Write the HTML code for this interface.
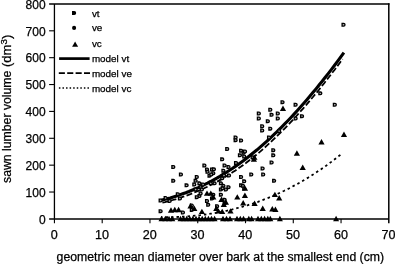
<!DOCTYPE html>
<html><head><meta charset="utf-8"><title>chart</title>
<style>html,body{margin:0;padding:0;background:#fff}svg{display:block}svg text{stroke:#000;stroke-width:0.25px}</style></head>
<body>
<svg width="395" height="264" viewBox="0 0 395 264">
<rect width="395" height="264" fill="#fff"/>
<g font-family="'Liberation Sans', Arial, Helvetica, sans-serif" fill="#000">
<path d="M54.43,218.9 V4.05" fill="none" stroke="#000" stroke-width="1.3"/>
<path d="M49.13,4.05 H389.5" fill="none" stroke="#000" stroke-width="1.45"/>
<path d="M388.8,3.35 V223.20000000000002" fill="none" stroke="#000" stroke-width="1.5"/>
<path d="M49.13,219.0 H388.8" fill="none" stroke="#000" stroke-width="1.6"/>
<path d="M49.13,192.03 H54.43" stroke="#000" stroke-width="1.1"/>
<path d="M49.13,165.16 H54.43" stroke="#000" stroke-width="1.1"/>
<path d="M49.13,138.29 H54.43" stroke="#000" stroke-width="1.1"/>
<path d="M49.13,111.42 H54.43" stroke="#000" stroke-width="1.1"/>
<path d="M49.13,84.55 H54.43" stroke="#000" stroke-width="1.1"/>
<path d="M49.13,57.68 H54.43" stroke="#000" stroke-width="1.1"/>
<path d="M49.13,30.81 H54.43" stroke="#000" stroke-width="1.1"/>
<path d="M54.43,218.9 V223.20000000000002" stroke="#000" stroke-width="1.1"/>
<path d="M102.20,218.9 V223.20000000000002" stroke="#000" stroke-width="1.1"/>
<path d="M149.97,218.9 V223.20000000000002" stroke="#000" stroke-width="1.1"/>
<path d="M197.74,218.9 V223.20000000000002" stroke="#000" stroke-width="1.1"/>
<path d="M245.51,218.9 V223.20000000000002" stroke="#000" stroke-width="1.1"/>
<path d="M293.28,218.9 V223.20000000000002" stroke="#000" stroke-width="1.1"/>
<path d="M341.05,218.9 V223.20000000000002" stroke="#000" stroke-width="1.1"/>
<text x="45.6" y="223.6" font-size="12" text-anchor="end">0</text>
<text x="45.6" y="196.7" font-size="12" text-anchor="end">100</text>
<text x="45.6" y="169.9" font-size="12" text-anchor="end">200</text>
<text x="45.6" y="143.0" font-size="12" text-anchor="end">300</text>
<text x="45.6" y="116.1" font-size="12" text-anchor="end">400</text>
<text x="45.6" y="89.3" font-size="12" text-anchor="end">500</text>
<text x="45.6" y="62.4" font-size="12" text-anchor="end">600</text>
<text x="45.6" y="35.5" font-size="12" text-anchor="end">700</text>
<text x="45.6" y="8.6" font-size="12" text-anchor="end">800</text>
<text x="50.7" y="239.4" font-size="12" textLength="7.0" lengthAdjust="spacingAndGlyphs">0</text>
<text x="95.0" y="239.4" font-size="12" textLength="14.0" lengthAdjust="spacingAndGlyphs">10</text>
<text x="142.8" y="239.4" font-size="12" textLength="14.0" lengthAdjust="spacingAndGlyphs">20</text>
<text x="190.5" y="239.4" font-size="12" textLength="14.0" lengthAdjust="spacingAndGlyphs">30</text>
<text x="238.3" y="239.4" font-size="12" textLength="14.0" lengthAdjust="spacingAndGlyphs">40</text>
<text x="286.1" y="239.4" font-size="12" textLength="14.0" lengthAdjust="spacingAndGlyphs">50</text>
<text x="333.9" y="239.4" font-size="12" textLength="14.0" lengthAdjust="spacingAndGlyphs">60</text>
<text x="381.6" y="239.4" font-size="12" textLength="14.0" lengthAdjust="spacingAndGlyphs">70</text>
<text x="56.6" y="260.5" font-size="12" textLength="327.5" lengthAdjust="spacingAndGlyphs">geometric mean diameter over bark at the smallest end (cm)</text>
<text transform="translate(11.4,183) rotate(-90)" font-size="12" textLength="112.4" lengthAdjust="spacingAndGlyphs">sawn lumber volume</text>
<text transform="translate(11.4,67) rotate(-90)" font-size="12" textLength="32.3" lengthAdjust="spacingAndGlyphs">(dm<tspan font-size="9" dy="-4">3</tspan><tspan dy="4">)</tspan></text>
<path d="M161.0,217.2 L163.6,217.2 L166.2,217.2 L168.9,217.2 L171.5,217.1 L174.1,217.1 L176.7,217.0 L179.3,216.9 L182.0,216.7 L184.6,216.6 L187.2,216.4 L189.8,216.2 L192.4,216.0 L195.1,215.7 L197.7,215.5 L200.3,215.2 L202.9,214.8 L205.5,214.5 L208.2,214.1 L210.8,213.7 L213.4,213.3 L216.0,212.8 L218.6,212.4 L221.3,211.9 L223.9,211.3 L226.5,210.8 L229.1,210.2 L231.7,209.6 L234.4,208.9 L237.0,208.2 L239.6,207.5 L242.2,206.8 L244.8,206.0 L247.5,205.3 L250.1,204.4 L252.7,203.6 L255.3,202.7 L258.0,201.8 L260.6,200.8 L263.2,199.8 L265.8,198.8 L268.4,197.8 L271.1,196.7 L273.7,195.6 L276.3,194.4 L278.9,193.2 L281.5,192.0 L284.2,190.8 L286.8,189.5 L289.4,188.2 L292.0,186.8 L294.6,185.4 L297.3,184.0 L299.9,182.5 L302.5,181.0 L305.1,179.4 L307.7,177.9 L310.4,176.2 L313.0,174.6 L315.6,172.9 L318.2,171.1 L320.8,169.4 L323.5,167.5 L326.1,165.7 L328.7,163.8 L331.3,161.9 L333.9,159.9 L336.6,157.9 L339.2,155.8 L341.8,153.7" fill="none" stroke="#000" stroke-width="1.8" stroke-dasharray="2.5 3.0" stroke-dashoffset="1"/>
<path d="M162.4,202.7 L165.0,202.1 L167.6,201.4 L170.2,200.7 L172.8,200.0 L175.4,199.3 L178.1,198.5 L180.7,197.6 L183.3,196.7 L185.9,195.8 L188.5,194.9 L191.1,193.9 L193.7,192.8 L196.3,191.7 L198.9,190.6 L201.5,189.4 L204.2,188.2 L206.8,187.0 L209.4,185.7 L212.0,184.4 L214.6,183.0 L217.2,181.6 L219.8,180.1 L222.4,178.6 L225.0,177.1 L227.6,175.5 L230.3,173.8 L232.9,172.1 L235.5,170.4 L238.1,168.6 L240.7,166.8 L243.3,164.9 L245.9,163.0 L248.5,161.0 L251.1,159.0 L253.7,157.0 L256.4,154.8 L259.0,152.6 L261.6,150.4 L264.2,148.1 L266.8,145.7 L269.4,143.3 L272.0,140.9 L274.6,138.4 L277.2,135.9 L279.8,133.3 L282.5,130.7 L285.1,128.1 L287.7,125.4 L290.3,122.6 L292.9,119.8 L295.5,117.0 L298.1,114.1 L300.7,111.2 L303.3,108.3 L305.9,105.3 L308.6,102.2 L311.2,99.1 L313.8,96.0 L316.4,92.9 L319.0,89.7 L321.6,86.4 L324.2,83.2 L326.8,79.8 L329.4,76.5 L332.0,73.1 L334.7,69.7 L337.3,66.2 L339.9,62.7 L342.5,59.1" fill="none" stroke="#000" stroke-width="1.8" stroke-dasharray="6 2.4"/>
<path d="M161.0,200.3 L164.1,199.5 L167.2,198.7 L170.3,197.9 L173.4,196.9 L176.5,196.0 L179.6,194.9 L182.7,193.8 L185.8,192.7 L188.9,191.5 L192.0,190.2 L195.1,188.9 L198.2,187.6 L201.3,186.1 L204.4,184.6 L207.5,183.1 L210.6,181.5 L213.7,179.8 L216.8,178.1 L219.9,176.3 L223.0,174.4 L226.1,172.5 L229.2,170.5 L232.3,168.5 L235.4,166.4 L238.5,164.2 L241.6,162.0 L244.7,159.7 L247.8,157.3 L250.9,154.8 L254.0,152.3 L257.1,149.8 L260.2,147.1 L263.3,144.4 L266.4,141.7 L269.5,138.8 L272.6,135.9 L275.7,133.0 L278.8,129.9 L281.9,126.8 L285.0,123.7 L288.1,120.5 L291.2,117.2 L294.3,113.9 L297.4,110.5 L300.5,107.0 L303.6,103.5 L306.7,99.9 L309.8,96.3 L312.9,92.6 L316.0,88.9 L319.1,85.1 L322.2,81.3 L325.3,77.3 L328.4,73.4 L331.5,69.4 L334.6,65.3 L337.7,61.1 L340.8,56.9 L343.9,52.7" fill="none" stroke="#000" stroke-width="3.1"/>
<path d="M171.9,165.6 h1.6 a1.3,1.35 0 0 1 0,2.7 h-1.6z" fill="#aaa" stroke="#000" stroke-width="1.3"/>
<path d="M179.5,173.2 h1.6 a1.3,1.35 0 0 1 0,2.7 h-1.6z" fill="#aaa" stroke="#000" stroke-width="1.3"/>
<path d="M171.9,179.5 h1.6 a1.3,1.35 0 0 1 0,2.7 h-1.6z" fill="#aaa" stroke="#000" stroke-width="1.3"/>
<path d="M185.2,184.0 h1.6 a1.3,1.35 0 0 1 0,2.7 h-1.6z" fill="#aaa" stroke="#000" stroke-width="1.3"/>
<path d="M159.2,199.2 h1.6 a1.3,1.35 0 0 1 0,2.7 h-1.6z" fill="#aaa" stroke="#000" stroke-width="1.3"/>
<path d="M164.2,196.7 h1.6 a1.3,1.35 0 0 1 0,2.7 h-1.6z" fill="#aaa" stroke="#000" stroke-width="1.3"/>
<path d="M168.2,199.7 h1.6 a1.3,1.35 0 0 1 0,2.7 h-1.6z" fill="#aaa" stroke="#000" stroke-width="1.3"/>
<path d="M176.4,192.8 h1.6 a1.3,1.35 0 0 1 0,2.7 h-1.6z" fill="#aaa" stroke="#000" stroke-width="1.3"/>
<path d="M178.5,197.2 h1.6 a1.3,1.35 0 0 1 0,2.7 h-1.6z" fill="#aaa" stroke="#000" stroke-width="1.3"/>
<path d="M159.2,209.8 h1.6 a1.3,1.35 0 0 1 0,2.7 h-1.6z" fill="#aaa" stroke="#000" stroke-width="1.3"/>
<path d="M181.5,211.1 h1.6 a1.3,1.35 0 0 1 0,2.7 h-1.6z" fill="#aaa" stroke="#000" stroke-width="1.3"/>
<path d="M190.4,204.2 h1.6 a1.3,1.35 0 0 1 0,2.7 h-1.6z" fill="#aaa" stroke="#000" stroke-width="1.3"/>
<path d="M190.4,208.6 h1.6 a1.3,1.35 0 0 1 0,2.7 h-1.6z" fill="#aaa" stroke="#000" stroke-width="1.3"/>
<path d="M195.4,175.7 h1.6 a1.3,1.35 0 0 1 0,2.7 h-1.6z" fill="#aaa" stroke="#000" stroke-width="1.3"/>
<path d="M194.2,179.5 h1.6 a1.3,1.35 0 0 1 0,2.7 h-1.6z" fill="#aaa" stroke="#000" stroke-width="1.3"/>
<path d="M192.9,183.2 h1.6 a1.3,1.35 0 0 1 0,2.7 h-1.6z" fill="#aaa" stroke="#000" stroke-width="1.3"/>
<path d="M198.0,182.0 h1.6 a1.3,1.35 0 0 1 0,2.7 h-1.6z" fill="#aaa" stroke="#000" stroke-width="1.3"/>
<path d="M194.2,188.2 h1.6 a1.3,1.35 0 0 1 0,2.7 h-1.6z" fill="#aaa" stroke="#000" stroke-width="1.3"/>
<path d="M199.2,185.8 h1.6 a1.3,1.35 0 0 1 0,2.7 h-1.6z" fill="#aaa" stroke="#000" stroke-width="1.3"/>
<path d="M203.0,164.2 h1.6 a1.3,1.35 0 0 1 0,2.7 h-1.6z" fill="#aaa" stroke="#000" stroke-width="1.3"/>
<path d="M205.6,168.1 h1.6 a1.3,1.35 0 0 1 0,2.7 h-1.6z" fill="#aaa" stroke="#000" stroke-width="1.3"/>
<path d="M210.6,168.1 h1.6 a1.3,1.35 0 0 1 0,2.7 h-1.6z" fill="#aaa" stroke="#000" stroke-width="1.3"/>
<path d="M208.1,174.3 h1.6 a1.3,1.35 0 0 1 0,2.7 h-1.6z" fill="#aaa" stroke="#000" stroke-width="1.3"/>
<path d="M211.9,171.8 h1.6 a1.3,1.35 0 0 1 0,2.7 h-1.6z" fill="#aaa" stroke="#000" stroke-width="1.3"/>
<path d="M213.2,182.0 h1.6 a1.3,1.35 0 0 1 0,2.7 h-1.6z" fill="#aaa" stroke="#000" stroke-width="1.3"/>
<path d="M209.4,182.0 h1.6 a1.3,1.35 0 0 1 0,2.7 h-1.6z" fill="#aaa" stroke="#000" stroke-width="1.3"/>
<path d="M220.8,158.0 h1.6 a1.3,1.35 0 0 1 0,2.7 h-1.6z" fill="#aaa" stroke="#000" stroke-width="1.3"/>
<path d="M223.2,164.2 h1.6 a1.3,1.35 0 0 1 0,2.7 h-1.6z" fill="#aaa" stroke="#000" stroke-width="1.3"/>
<path d="M222.0,169.3 h1.6 a1.3,1.35 0 0 1 0,2.7 h-1.6z" fill="#aaa" stroke="#000" stroke-width="1.3"/>
<path d="M227.1,165.6 h1.6 a1.3,1.35 0 0 1 0,2.7 h-1.6z" fill="#aaa" stroke="#000" stroke-width="1.3"/>
<path d="M234.6,161.7 h1.6 a1.3,1.35 0 0 1 0,2.7 h-1.6z" fill="#aaa" stroke="#000" stroke-width="1.3"/>
<path d="M220.8,177.0 h1.6 a1.3,1.35 0 0 1 0,2.7 h-1.6z" fill="#aaa" stroke="#000" stroke-width="1.3"/>
<path d="M219.5,182.0 h1.6 a1.3,1.35 0 0 1 0,2.7 h-1.6z" fill="#aaa" stroke="#000" stroke-width="1.3"/>
<path d="M222.0,184.5 h1.6 a1.3,1.35 0 0 1 0,2.7 h-1.6z" fill="#aaa" stroke="#000" stroke-width="1.3"/>
<path d="M219.5,188.2 h1.6 a1.3,1.35 0 0 1 0,2.7 h-1.6z" fill="#aaa" stroke="#000" stroke-width="1.3"/>
<path d="M224.5,188.2 h1.6 a1.3,1.35 0 0 1 0,2.7 h-1.6z" fill="#aaa" stroke="#000" stroke-width="1.3"/>
<path d="M227.1,185.8 h1.6 a1.3,1.35 0 0 1 0,2.7 h-1.6z" fill="#aaa" stroke="#000" stroke-width="1.3"/>
<path d="M219.5,193.3 h1.6 a1.3,1.35 0 0 1 0,2.7 h-1.6z" fill="#aaa" stroke="#000" stroke-width="1.3"/>
<path d="M239.7,175.7 h1.6 a1.3,1.35 0 0 1 0,2.7 h-1.6z" fill="#aaa" stroke="#000" stroke-width="1.3"/>
<path d="M242.8,180.0 h1.6 a1.3,1.35 0 0 1 0,2.7 h-1.6z" fill="#aaa" stroke="#000" stroke-width="1.3"/>
<path d="M239.7,184.0 h1.6 a1.3,1.35 0 0 1 0,2.7 h-1.6z" fill="#aaa" stroke="#000" stroke-width="1.3"/>
<path d="M242.8,187.1 h1.6 a1.3,1.35 0 0 1 0,2.7 h-1.6z" fill="#aaa" stroke="#000" stroke-width="1.3"/>
<path d="M211.9,193.3 h1.6 a1.3,1.35 0 0 1 0,2.7 h-1.6z" fill="#aaa" stroke="#000" stroke-width="1.3"/>
<path d="M210.6,197.2 h1.6 a1.3,1.35 0 0 1 0,2.7 h-1.6z" fill="#aaa" stroke="#000" stroke-width="1.3"/>
<path d="M205.6,199.7 h1.6 a1.3,1.35 0 0 1 0,2.7 h-1.6z" fill="#aaa" stroke="#000" stroke-width="1.3"/>
<path d="M206.8,203.5 h1.6 a1.3,1.35 0 0 1 0,2.7 h-1.6z" fill="#aaa" stroke="#000" stroke-width="1.3"/>
<path d="M198.0,194.7 h1.6 a1.3,1.35 0 0 1 0,2.7 h-1.6z" fill="#aaa" stroke="#000" stroke-width="1.3"/>
<path d="M199.2,192.1 h1.6 a1.3,1.35 0 0 1 0,2.7 h-1.6z" fill="#aaa" stroke="#000" stroke-width="1.3"/>
<path d="M215.7,204.8 h1.6 a1.3,1.35 0 0 1 0,2.7 h-1.6z" fill="#aaa" stroke="#000" stroke-width="1.3"/>
<path d="M223.2,202.2 h1.6 a1.3,1.35 0 0 1 0,2.7 h-1.6z" fill="#aaa" stroke="#000" stroke-width="1.3"/>
<path d="M223.2,198.5 h1.6 a1.3,1.35 0 0 1 0,2.7 h-1.6z" fill="#aaa" stroke="#000" stroke-width="1.3"/>
<path d="M270.2,161.2 h1.6 a1.3,1.35 0 0 1 0,2.7 h-1.6z" fill="#aaa" stroke="#000" stroke-width="1.3"/>
<path d="M261.2,167.2 h1.6 a1.3,1.35 0 0 1 0,2.7 h-1.6z" fill="#aaa" stroke="#000" stroke-width="1.3"/>
<path d="M249.9,173.2 h1.6 a1.3,1.35 0 0 1 0,2.7 h-1.6z" fill="#aaa" stroke="#000" stroke-width="1.3"/>
<path d="M261.8,173.2 h1.6 a1.3,1.35 0 0 1 0,2.7 h-1.6z" fill="#aaa" stroke="#000" stroke-width="1.3"/>
<path d="M272.7,179.5 h1.6 a1.3,1.35 0 0 1 0,2.7 h-1.6z" fill="#aaa" stroke="#000" stroke-width="1.3"/>
<path d="M234.2,136.2 h1.6 a1.3,1.35 0 0 1 0,2.7 h-1.6z" fill="#aaa" stroke="#000" stroke-width="1.3"/>
<path d="M234.2,138.8 h1.6 a1.3,1.35 0 0 1 0,2.7 h-1.6z" fill="#aaa" stroke="#000" stroke-width="1.3"/>
<path d="M239.7,139.2 h1.6 a1.3,1.35 0 0 1 0,2.7 h-1.6z" fill="#aaa" stroke="#000" stroke-width="1.3"/>
<path d="M225.8,147.7 h1.6 a1.3,1.35 0 0 1 0,2.7 h-1.6z" fill="#aaa" stroke="#000" stroke-width="1.3"/>
<path d="M239.7,149.3 h1.6 a1.3,1.35 0 0 1 0,2.7 h-1.6z" fill="#aaa" stroke="#000" stroke-width="1.3"/>
<path d="M242.2,151.5 h1.6 a1.3,1.35 0 0 1 0,2.7 h-1.6z" fill="#aaa" stroke="#000" stroke-width="1.3"/>
<path d="M238.5,154.0 h1.6 a1.3,1.35 0 0 1 0,2.7 h-1.6z" fill="#aaa" stroke="#000" stroke-width="1.3"/>
<path d="M281.1,100.8 h1.6 a1.3,1.35 0 0 1 0,2.7 h-1.6z" fill="#aaa" stroke="#000" stroke-width="1.3"/>
<path d="M268.9,108.4 h1.6 a1.3,1.35 0 0 1 0,2.7 h-1.6z" fill="#aaa" stroke="#000" stroke-width="1.3"/>
<path d="M257.4,112.2 h1.6 a1.3,1.35 0 0 1 0,2.7 h-1.6z" fill="#aaa" stroke="#000" stroke-width="1.3"/>
<path d="M270.2,113.5 h1.6 a1.3,1.35 0 0 1 0,2.7 h-1.6z" fill="#aaa" stroke="#000" stroke-width="1.3"/>
<path d="M276.4,112.2 h1.6 a1.3,1.35 0 0 1 0,2.7 h-1.6z" fill="#aaa" stroke="#000" stroke-width="1.3"/>
<path d="M257.4,117.2 h1.6 a1.3,1.35 0 0 1 0,2.7 h-1.6z" fill="#aaa" stroke="#000" stroke-width="1.3"/>
<path d="M266.4,119.8 h1.6 a1.3,1.35 0 0 1 0,2.7 h-1.6z" fill="#aaa" stroke="#000" stroke-width="1.3"/>
<path d="M276.4,117.2 h1.6 a1.3,1.35 0 0 1 0,2.7 h-1.6z" fill="#aaa" stroke="#000" stroke-width="1.3"/>
<path d="M260.8,124.9 h1.6 a1.3,1.35 0 0 1 0,2.7 h-1.6z" fill="#aaa" stroke="#000" stroke-width="1.3"/>
<path d="M268.9,127.3 h1.6 a1.3,1.35 0 0 1 0,2.7 h-1.6z" fill="#aaa" stroke="#000" stroke-width="1.3"/>
<path d="M260.8,129.2 h1.6 a1.3,1.35 0 0 1 0,2.7 h-1.6z" fill="#aaa" stroke="#000" stroke-width="1.3"/>
<path d="M294.2,103.4 h1.6 a1.3,1.35 0 0 1 0,2.7 h-1.6z" fill="#aaa" stroke="#000" stroke-width="1.3"/>
<path d="M300.6,114.8 h1.6 a1.3,1.35 0 0 1 0,2.7 h-1.6z" fill="#aaa" stroke="#000" stroke-width="1.3"/>
<path d="M294.2,117.2 h1.6 a1.3,1.35 0 0 1 0,2.7 h-1.6z" fill="#aaa" stroke="#000" stroke-width="1.3"/>
<path d="M318.9,92.0 h1.6 a1.3,1.35 0 0 1 0,2.7 h-1.6z" fill="#aaa" stroke="#000" stroke-width="1.3"/>
<path d="M333.4,103.4 h1.6 a1.3,1.35 0 0 1 0,2.7 h-1.6z" fill="#aaa" stroke="#000" stroke-width="1.3"/>
<path d="M267.6,136.2 h1.6 a1.3,1.35 0 0 1 0,2.7 h-1.6z" fill="#aaa" stroke="#000" stroke-width="1.3"/>
<path d="M271.9,148.8 h1.6 a1.3,1.35 0 0 1 0,2.7 h-1.6z" fill="#aaa" stroke="#000" stroke-width="1.3"/>
<path d="M271.9,154.0 h1.6 a1.3,1.35 0 0 1 0,2.7 h-1.6z" fill="#aaa" stroke="#000" stroke-width="1.3"/>
<path d="M277.8,129.8 h1.6 a1.3,1.35 0 0 1 0,2.7 h-1.6z" fill="#aaa" stroke="#000" stroke-width="1.3"/>
<path d="M243.6,150.2 h1.6 a1.3,1.35 0 0 1 0,2.7 h-1.6z" fill="#aaa" stroke="#000" stroke-width="1.3"/>
<path d="M251.2,156.0 h1.6 a1.3,1.35 0 0 1 0,2.7 h-1.6z" fill="#aaa" stroke="#000" stroke-width="1.3"/>
<path d="M342.1,23.4 h1.6 a1.3,1.35 0 0 1 0,2.7 h-1.6z" fill="#aaa" stroke="#000" stroke-width="1.3"/>
<path d="M242.8,155.2 h1.6 a1.3,1.35 0 0 1 0,2.7 h-1.6z" fill="#aaa" stroke="#000" stroke-width="1.3"/>
<path d="M212.5,168.0 h1.6 a1.3,1.35 0 0 1 0,2.7 h-1.6z" fill="#aaa" stroke="#000" stroke-width="1.3"/>
<path d="M206.1,170.5 h1.6 a1.3,1.35 0 0 1 0,2.7 h-1.6z" fill="#aaa" stroke="#000" stroke-width="1.3"/>
<path d="M209.9,173.1 h1.6 a1.3,1.35 0 0 1 0,2.7 h-1.6z" fill="#aaa" stroke="#000" stroke-width="1.3"/>
<path d="M222.6,174.2 h1.6 a1.3,1.35 0 0 1 0,2.7 h-1.6z" fill="#aaa" stroke="#000" stroke-width="1.3"/>
<path d="M227.6,174.2 h1.6 a1.3,1.35 0 0 1 0,2.7 h-1.6z" fill="#aaa" stroke="#000" stroke-width="1.3"/>
<path d="M221.2,187.0 h1.6 a1.3,1.35 0 0 1 0,2.7 h-1.6z" fill="#aaa" stroke="#000" stroke-width="1.3"/>
<path d="M241.6,184.5 h1.6 a1.3,1.35 0 0 1 0,2.7 h-1.6z" fill="#aaa" stroke="#000" stroke-width="1.3"/>
<path d="M201.7,183.2 h1.6 a1.3,1.35 0 0 1 0,2.7 h-1.6z" fill="#aaa" stroke="#000" stroke-width="1.3"/>
<path d="M200.4,188.2 h1.6 a1.3,1.35 0 0 1 0,2.7 h-1.6z" fill="#aaa" stroke="#000" stroke-width="1.3"/>
<path d="M195.4,195.8 h1.6 a1.3,1.35 0 0 1 0,2.7 h-1.6z" fill="#aaa" stroke="#000" stroke-width="1.3"/>
<path d="M171.0,207.3 l3.1,5.4 h-6.2z" fill="#000"/>
<path d="M174.8,206.8 l3.1,5.4 h-6.2z" fill="#000"/>
<path d="M178.6,206.8 l3.1,5.4 h-6.2z" fill="#000"/>
<path d="M190.5,203.1 l3.1,5.4 h-6.2z" fill="#000"/>
<path d="M194.3,205.6 l3.1,5.4 h-6.2z" fill="#000"/>
<path d="M201.9,208.7 l3.1,5.4 h-6.2z" fill="#000"/>
<path d="M207.0,190.4 l3.1,5.4 h-6.2z" fill="#000"/>
<path d="M210.8,190.4 l3.1,5.4 h-6.2z" fill="#000"/>
<path d="M213.3,194.2 l3.1,5.4 h-6.2z" fill="#000"/>
<path d="M216.3,205.6 l3.1,5.4 h-6.2z" fill="#000"/>
<path d="M218.4,208.2 l3.1,5.4 h-6.2z" fill="#000"/>
<path d="M222.2,208.7 l3.1,5.4 h-6.2z" fill="#000"/>
<path d="M225.9,199.3 l3.1,5.4 h-6.2z" fill="#000"/>
<path d="M230.5,208.2 l3.1,5.4 h-6.2z" fill="#000"/>
<path d="M237.3,194.2 l3.1,5.4 h-6.2z" fill="#000"/>
<path d="M244.9,192.5 l3.1,5.4 h-6.2z" fill="#000"/>
<path d="M243.2,200.0 l3.1,5.4 h-6.2z" fill="#000"/>
<path d="M253.9,156.3 l3.1,5.4 h-6.2z" fill="#000"/>
<path d="M302.7,164.6 l3.1,5.4 h-6.2z" fill="#000"/>
<path d="M274.9,191.7 l3.1,5.4 h-6.2z" fill="#000"/>
<path d="M279.2,195.0 l3.1,5.4 h-6.2z" fill="#000"/>
<path d="M254.6,200.6 l3.1,5.4 h-6.2z" fill="#000"/>
<path d="M262.7,205.6 l3.1,5.4 h-6.2z" fill="#000"/>
<path d="M272.3,206.1 l3.1,5.4 h-6.2z" fill="#000"/>
<path d="M275.4,206.6 l3.1,5.4 h-6.2z" fill="#000"/>
<path d="M245.0,185.4 l3.1,5.4 h-6.2z" fill="#000"/>
<path d="M283.0,105.5 l3.1,5.4 h-6.2z" fill="#000"/>
<path d="M321.5,139.1 l3.1,5.4 h-6.2z" fill="#000"/>
<path d="M296.9,150.3 l3.1,5.4 h-6.2z" fill="#000"/>
<path d="M344.0,131.5 l3.1,5.4 h-6.2z" fill="#000"/>
<path d="M254.4,154.4 l3.1,5.4 h-6.2z" fill="#000"/>
<path d="M221.5,196.6 l3.1,5.4 h-6.2z" fill="#000"/>
<path d="M223.8,201.5 l3.1,5.4 h-6.2z" fill="#000"/>
<path d="M161.5,215.8 l3,5.4 h-6z" fill="#000"/>
<path d="M165.3,215.8 l3,5.4 h-6z" fill="#000"/>
<path d="M169.0,215.8 l3,5.4 h-6z" fill="#000"/>
<path d="M172.3,215.8 l3,5.4 h-6z" fill="#000"/>
<path d="M180.5,215.8 l3,5.4 h-6z" fill="#000"/>
<path d="M183.6,215.8 l3,5.4 h-6z" fill="#000"/>
<path d="M186.7,215.8 l3,5.4 h-6z" fill="#000"/>
<path d="M189.8,215.8 l3,5.4 h-6z" fill="#000"/>
<path d="M192.9,215.8 l3,5.4 h-6z" fill="#000"/>
<path d="M196.0,215.8 l3,5.4 h-6z" fill="#000"/>
<path d="M199.1,215.8 l3,5.4 h-6z" fill="#000"/>
<path d="M202.2,215.8 l3,5.4 h-6z" fill="#000"/>
<path d="M205.3,215.8 l3,5.4 h-6z" fill="#000"/>
<path d="M208.4,215.8 l3,5.4 h-6z" fill="#000"/>
<path d="M211.5,215.8 l3,5.4 h-6z" fill="#000"/>
<path d="M214.6,215.8 l3,5.4 h-6z" fill="#000"/>
<path d="M223.0,215.8 l3,5.4 h-6z" fill="#000"/>
<path d="M226.5,215.8 l3,5.4 h-6z" fill="#000"/>
<path d="M230.0,215.8 l3,5.4 h-6z" fill="#000"/>
<path d="M237.0,215.8 l3,5.4 h-6z" fill="#000"/>
<path d="M240.3,215.8 l3,5.4 h-6z" fill="#000"/>
<path d="M243.5,215.8 l3,5.4 h-6z" fill="#000"/>
<path d="M248.8,215.8 l3,5.4 h-6z" fill="#000"/>
<path d="M251.6,215.8 l3,5.4 h-6z" fill="#000"/>
<path d="M258.0,215.8 l3,5.4 h-6z" fill="#000"/>
<path d="M261.3,215.8 l3,5.4 h-6z" fill="#000"/>
<path d="M264.6,215.8 l3,5.4 h-6z" fill="#000"/>
<path d="M267.8,215.8 l3,5.4 h-6z" fill="#000"/>
<path d="M270.3,215.8 l3,5.4 h-6z" fill="#000"/>
<path d="M279.9,215.8 l3,5.4 h-6z" fill="#000"/>
<path d="M336.1,215.8 l3,5.4 h-6z" fill="#000"/>
<path d="M72,11.1 h2.3 a1.9,1.95 0 0 1 0,3.9 h-2.3z"/>
<circle cx="74.1" cy="27.9" r="2.05"/>
<path d="M75.1,41.6 l3,5.1 h-6z"/>
<path d="M59.1,58.6 H89.6" stroke="#000" stroke-width="2.7"/>
<path d="M58.8,73.1 H90" stroke="#000" stroke-width="1.7" stroke-dasharray="6.1 2.3"/>
<path d="M58.9,88.1 H89.2" stroke="#000" stroke-width="1.5" stroke-dasharray="1.5 2.07"/>
<text x="91.9" y="16.6" font-size="9.9">vt</text>
<text x="91.9" y="31.4" font-size="9.9">ve</text>
<text x="91.9" y="47.2" font-size="9.9">vc</text>
<text x="91.9" y="61.6" font-size="9.9">model vt</text>
<text x="91.9" y="76.5" font-size="9.9">model ve</text>
<text x="91.9" y="92.1" font-size="9.9">model vc</text>
</g></svg>
</body></html>
